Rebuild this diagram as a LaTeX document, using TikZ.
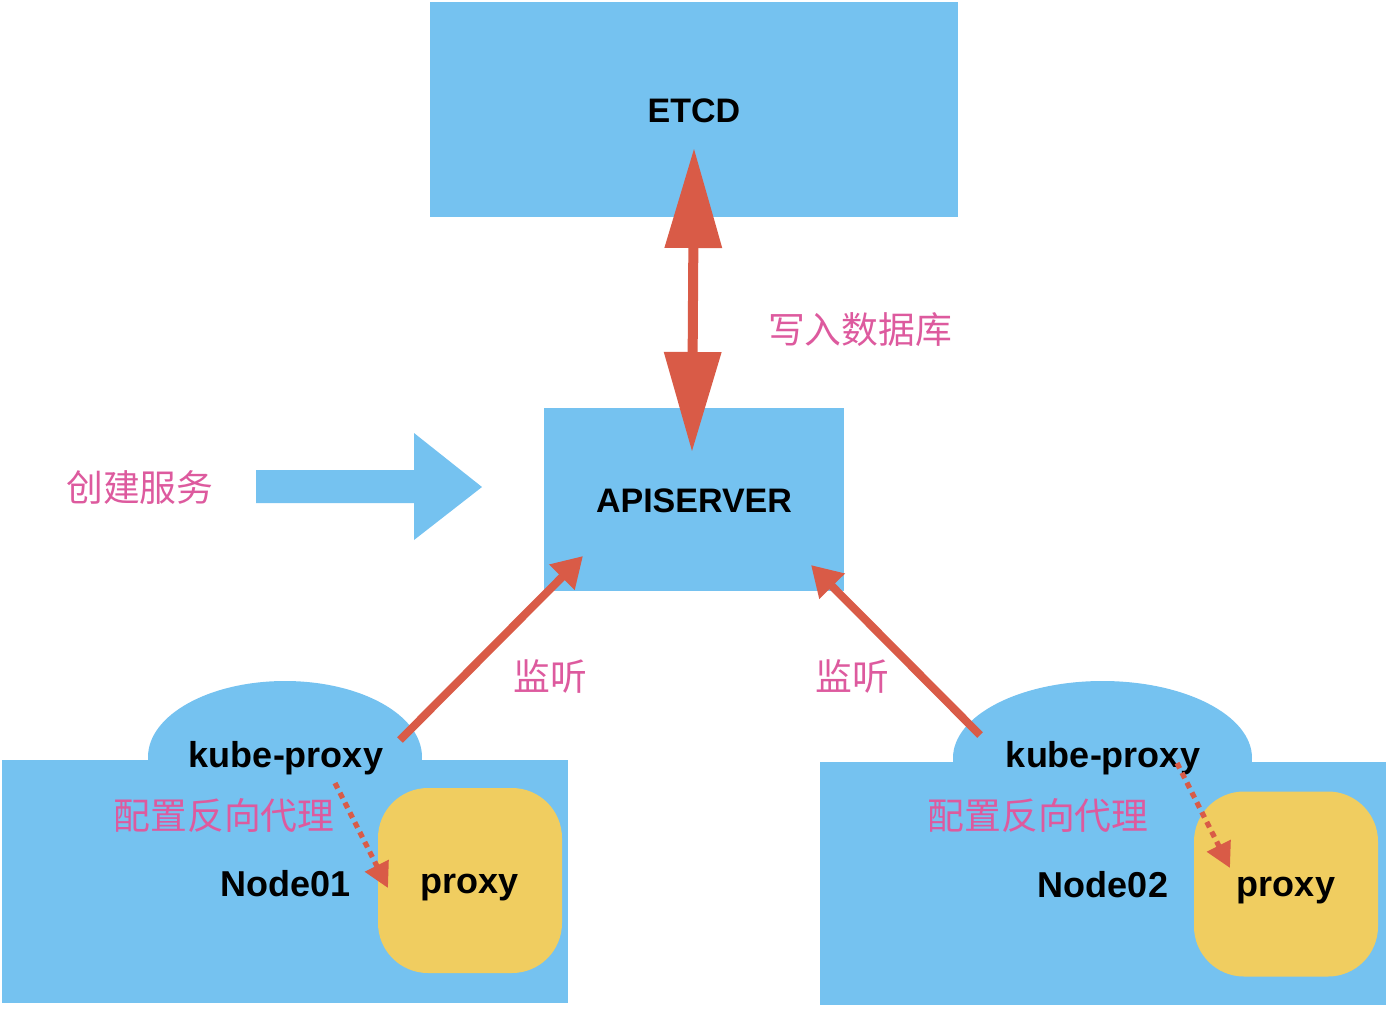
\documentclass[tikz,border=0pt]{standalone}
\usepackage{fontspec}
\setmainfont{Liberation Sans}
\newfontfamily\cjk{Noto Sans CJK SC}
\usetikzlibrary{arrows.meta,shapes.geometric}
\definecolor{kblue}{HTML}{75C2F0}
\definecolor{kred}{HTML}{D95B47}
\definecolor{kyellow}{HTML}{F0CD60}
\definecolor{kpink}{HTML}{DD5A9E}
\tikzset{
  box/.style={fill=kblue, draw=none, inner sep=0pt},
  capslbl/.style={inner sep=0pt, font=\fontsize{17}{20}\selectfont\bfseries},
  blob/.style={ellipse, fill=kblue, draw=none, inner sep=0pt},
  proxybox/.style={fill=kyellow, draw=none, rounded corners=25pt, minimum width=92pt, minimum height=92.5pt, inner sep=0pt},
  lbl/.style={inner sep=0pt, font=\fontsize{18}{21}\selectfont\bfseries},
  cn/.style={inner sep=0pt, text=kpink, font=\cjk\fontsize{18.4}{21}\selectfont},
  bigarrow/.style={draw=kred, line width=5pt, {Triangle[length=50pt,width=27.5pt]}-{Triangle[length=50pt,width=27.5pt]}},
  watcharrow/.style={draw=kred, line width=4pt, -{Triangle[length=15pt,width=17pt]}},
  cfgarrow/.style={draw=kred, line width=2.6pt, dash pattern=on 3pt off 2.5pt, -{Triangle[length=12.5pt,width=12.75pt]}}
}
\begin{document}
\begin{tikzpicture}[x=0.5pt,y=-0.5pt]
\useasboundingbox (0,0) rectangle (1388,1008);

% top boxes
\node[box, minimum width=264pt, minimum height=107.5pt] (etcd) at (694,109.5) {};
\node[capslbl] (etcdtxt) at (694,111) {ETCD};
\node[box, minimum width=150pt, minimum height=91.5pt] (api) at (694,499.5) {};
\node[capslbl] (apitxt) at (694,501) {APISERVER};

% create-service arrow
\fill[kblue] (256,470) -- (414,470) -- (414,433) -- (482,487) -- (414,540) -- (414,503) -- (256,503) -- cycle;
\node[cn] (create) at (140,488) {创建服务};

% left node
\node[blob, minimum width=137pt, minimum height=76pt] (kp1bg) at (285,757) {};
\node[box, minimum width=283pt, minimum height=121.5pt] (node1) at (285,881.5) {};
\node[lbl] (n1txt) at (286,884) {Node01};
\node[lbl] (kp1) at (286,758) {kube-proxy};
\node[cn] (cfg1) at (224,816) {配置反向代理};
\node[proxybox] (px1) at (470,880.5) {};
\node[lbl] (px1txt) at (470,888) {proxy};

% right node
\node[blob, minimum width=149.5pt, minimum height=77pt] (kp2bg) at (1102.5,758) {};
\node[box, minimum width=283pt, minimum height=121.5pt] (node2) at (1103,883.5) {};
\node[lbl] (n2txt) at (1103,885) {Node02};
\node[lbl] (kp2) at (1103,758) {kube-proxy};
\node[cn] (cfg2) at (1038,816) {配置反向代理};
\node[proxybox] (px2) at (1286,884) {};
\node[lbl] (px2txt) at (1286,891) {proxy};

% labels
\node[cn] (write) at (860,330) {写入数据库};
\node[cn] (w1) at (550,677) {监听};
\node[cn] (w2) at (852,677) {监听};

% connectors
\coordinate (etcdin) at (694,148);
\coordinate (apiin) at (692,452);
\draw[bigarrow] (etcdin) -- (apiin);

\coordinate (w1s) at (400,740);
\coordinate (w1e) at (583,556);
\draw[watcharrow] (w1s) -- (w1e);
\coordinate (w2s) at (980,735);
\coordinate (w2e) at (811,565);
\draw[watcharrow] (w2s) -- (w2e);

\coordinate (c1s) at (335,783);
\coordinate (c1e) at (388,888);
\draw[cfgarrow] (c1s) -- (c1e);
\coordinate (c2s) at (1177,763);
\coordinate (c2e) at (1230,868);
\draw[cfgarrow] (c2s) -- (c2e);
\end{tikzpicture}
\end{document}
